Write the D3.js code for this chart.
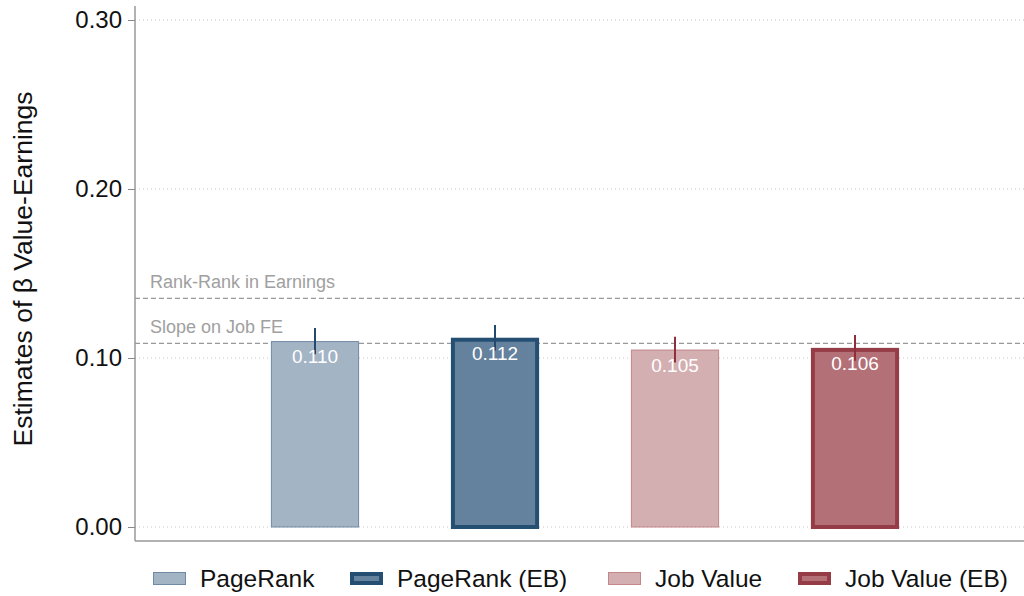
<!DOCTYPE html>
<html>
<head>
<meta charset="utf-8">
<script src="https://cdn.jsdelivr.net/npm/d3@7"></script>
<style>
	body { margin: 0; background: white; }
	svg { font-family: "Liberation Sans", Arial, sans-serif; }
</style>
</head>
<body>
<svg id="chart" width="1024" height="596"></svg>
<script>
// data
var categories = ["PageRank", "PageRank (EB)", "Job Value", "Job Value (EB)"];
var estimates = [0.110, 0.112, 0.105, 0.106];
var ciLow = [0.1022, 0.1045, 0.0974, 0.0984];
var ciHigh = [0.1178, 0.1195, 0.1126, 0.1136];
var refLabels = ["Rank-Rank in Earnings", "Slope on Job FE"];
var refValues = [0.1353, 0.1087];
var yTicks = [0, 0.1, 0.2, 0.3];

var fills = ["#a3b4c5", "#64819d", "#d4afb2", "#b37177"];
var strokes = ["#7089a5", "#254e73", "#c2868b", "#953c46"];
var strokeWidths = [1, 4, 1, 4];
var ciColors = ["#23496e", "#23496e", "#8f2f3c", "#8f2f3c"];

var svg = d3.select("#chart");
var left = 135, right = 1024;

var x = d3.scaleBand()
	.domain(categories)
	.range([225, 945])
	.paddingInner(0.51)
	.paddingOuter(0.255);

var y = d3.scaleLinear()
	.domain([0, 0.3])
	.range([527, 20]);

// dotted grid
svg.selectAll(".grid")
	.data(yTicks)
	.enter()
	.append("line")
	.attr("x1", left)
	.attr("x2", right)
	.attr("y1", function(d) { return y(d); })
	.attr("y2", function(d) { return y(d); })
	.style("stroke", "#c8c8c8")
	.style("stroke-width", 1)
	.style("stroke-dasharray", "1,3");

// y axis
var yAxis = d3.axisLeft(y)
	.tickValues(yTicks)
	.tickFormat(d3.format(".2f"))
	.tickSize(7)
	.tickPadding(6);

var yAxisG = svg.append("g")
	.attr("transform", "translate(" + left + ",0)")
	.call(yAxis);
yAxisG.select(".domain").remove();
yAxisG.selectAll(".tick line").style("stroke", "#888");
yAxisG.selectAll(".tick text")
	.style("font-size", "24px")
	.style("fill", "#111");

// axis frame lines
svg.append("line")
	.attr("x1", left).attr("x2", left)
	.attr("y1", 6).attr("y2", 541)
	.style("stroke", "#999").style("stroke-width", 1.5);
svg.append("line")
	.attr("x1", left).attr("x2", right)
	.attr("y1", 541).attr("y2", 541)
	.style("stroke", "#999").style("stroke-width", 1.5);

// y title
svg.append("text")
	.attr("transform", "translate(32,269) rotate(-90)")
	.style("text-anchor", "middle")
	.style("font-size", "26.5px")
	.style("fill", "#111")
	.text("Estimates of \u03b2 Value-Earnings");

// reference lines
svg.selectAll(".ref")
	.data(refValues)
	.enter()
	.append("line")
	.attr("x1", left)
	.attr("x2", right)
	.attr("y1", function(d) { return y(d); })
	.attr("y2", function(d) { return y(d); })
	.style("stroke", "#999")
	.style("stroke-width", 1.2)
	.style("stroke-dasharray", "5,3");

svg.selectAll(".refLabel")
	.data(refValues)
	.enter()
	.append("text")
	.attr("x", 150)
	.attr("y", function(d) { return y(d) - 10; })
	.style("font-size", "18px")
	.style("fill", "#a0a0a0")
	.text(function(d, i) { return refLabels[i]; });

// bars
var bars = svg.selectAll(".bar")
	.data(categories)
	.enter()
	.append("g")
	.attr("class", "bar");

bars.append("rect")
	.attr("x", function(d, i) { return x(d) + strokeWidths[i] / 2; })
	.attr("y", function(d, i) { return y(estimates[i]) + strokeWidths[i] / 2; })
	.attr("width", function(d, i) { return x.bandwidth() - strokeWidths[i]; })
	.attr("height", function(d, i) { return y(0) - y(estimates[i]) - strokeWidths[i] / 2; })
	.style("fill", function(d, i) { return fills[i]; })
	.style("stroke", function(d, i) { return strokes[i]; })
	.style("stroke-width", function(d, i) { return strokeWidths[i]; });

// confidence intervals
bars.append("line")
	.attr("x1", function(d) { return x(d) + x.bandwidth() / 2; })
	.attr("x2", function(d) { return x(d) + x.bandwidth() / 2; })
	.attr("y1", function(d, i) { return y(ciHigh[i]); })
	.attr("y2", function(d, i) { return y(ciLow[i]); })
	.style("stroke", function(d, i) { return ciColors[i]; })
	.style("stroke-width", 2);

// value labels
bars.append("text")
	.attr("x", function(d) { return x(d) + x.bandwidth() / 2; })
	.attr("y", function(d, i) { return y(estimates[i]) + 22; })
	.style("text-anchor", "middle")
	.style("font-size", "19px")
	.style("fill", "white")
	.text(function(d, i) { return d3.format(".3f")(estimates[i]); });

// legend
var legendX = [153, 350, 608, 798];
var legend = svg.selectAll(".legend")
	.data(categories)
	.enter()
	.append("g")
	.attr("transform", function(d, i) { return "translate(" + legendX[i] + ",572)"; });

legend.append("rect")
	.attr("x", function(d, i) { return strokeWidths[i] / 2; })
	.attr("y", function(d, i) { return strokeWidths[i] / 2; })
	.attr("width", function(d, i) { return 33 - strokeWidths[i]; })
	.attr("height", function(d, i) { return 13 - strokeWidths[i]; })
	.style("fill", function(d, i) { return fills[i]; })
	.style("stroke", function(d, i) { return strokes[i]; })
	.style("stroke-width", function(d, i) { return strokeWidths[i]; });

legend.append("text")
	.attr("x", 47)
	.attr("y", 15)
	.style("font-size", "24.5px")
	.style("fill", "#111")
	.text(function(d) { return d; });
</script>
</body>
</html>
